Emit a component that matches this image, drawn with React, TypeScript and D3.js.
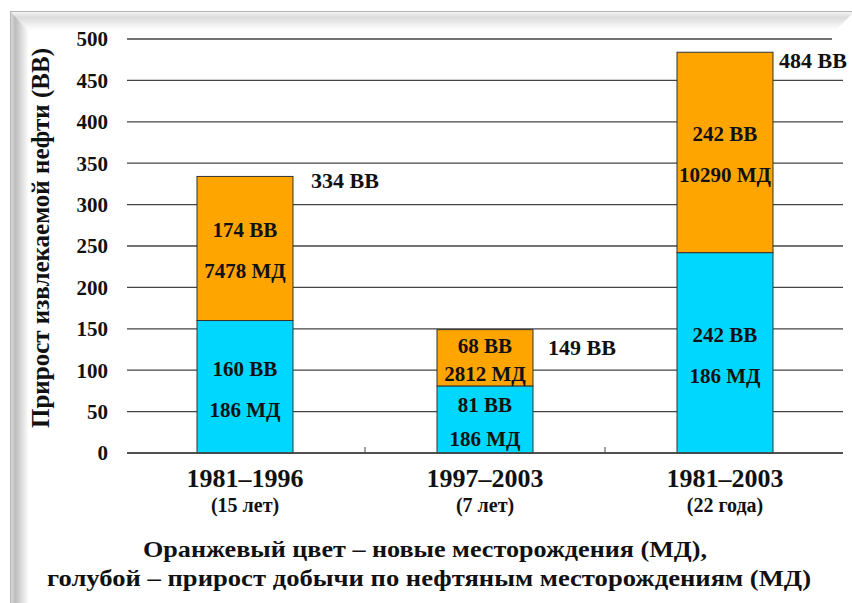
import React from "react";
import * as d3 from "d3";

// периоды и подписи
const periods = ["1981–1996", "1997–2003", "1981–2003"];
const durations = ["(15 лет)", "(7 лет)", "(22 года)"];
// прирост добычи по старым месторождениям (голубой), ВВ
const growthBB = [160, 81, 242];
// новые месторождения (оранжевый), ВВ
const newFieldsBB = [174, 68, 242];
const totalBB = [334, 149, 484];
// число месторождений
const growthFields = [186, 186, 186];
const newFieldsCount = [7478, 2812, 10290];
const yTicks = [0, 50, 100, 150, 200, 250, 300, 350, 400, 450, 500];

// ручные сдвиги подписей итогов (как на слайде)
const totalNudge = [
  { dx: 18, dy: 4 },
  { dx: 15, dy: 18 },
  { dx: 6, dy: 8 },
];

const W = 852, H = 603;
const FONT = "Liberation Serif, Tinos, DejaVu Serif, serif";
const ORANGE = "#FFA500";
const CYAN = "#00D7FF";

const App = () => {
  const x = d3.scaleBand().domain(periods).range([125, 845]).paddingInner(0.6).paddingOuter(0.3);
  const y = d3.scaleLinear().domain([0, 500]).range([453, 39]);
  const gridX0 = 127, gridX1 = 843;
  const bw = x.bandwidth();

  const segLabels = (top, bottom, cx, l1, l2, key) => {
    const y0 = y(bottom), y1 = y(top);
    const mid = (y0 + y1) / 2 + 2;
    const gap = Math.min(41, (y0 - y1) / 2);
    return (
      <g key={key} fontFamily={FONT} fontWeight="bold" fontSize={21} textAnchor="middle" fill="#111">
        <text x={cx} y={mid - gap / 2} dy="0.35em">{l1}</text>
        <text x={cx} y={mid + gap / 2} dy="0.35em">{l2}</text>
      </g>
    );
  };

  return (
    <svg width={W} height={H} style={{ position: "absolute", left: 0, top: 0, background: "#fff", fontFamily: FONT }}>
      <defs>
        <linearGradient id="bevTop" x1="0" y1="0" x2="0" y2="1">
          <stop offset="0" stopColor="#f4f4f4" />
          <stop offset="0.3" stopColor="#dcdcdc" />
          <stop offset="1" stopColor="#ffffff" />
        </linearGradient>
        <linearGradient id="bevLeft" x1="0" y1="0" x2="1" y2="0">
          <stop offset="0" stopColor="#d8d8d8" />
          <stop offset="0.25" stopColor="#bdbdbd" />
          <stop offset="1" stopColor="#fbfbfb" />
        </linearGradient>
      </defs>

      {/* рамка слайда */}
      <polygon points={`11,12 ${W},12 ${W},14 836,30 28,30`} fill="url(#bevTop)" />
      <polygon points={`11,12 28,30 28,${H} 11,${H}`} fill="url(#bevLeft)" />
      <line x1={10} x2={W} y1={11.5} y2={11.5} stroke="#b5b5b5" />
      <line x1={10.5} x2={10.5} y1={11} y2={H} stroke="#b5b5b5" />

      {/* сетка */}
      {yTicks.map(t => (
        <g key={t}>
          <line x1={gridX0} x2={t === 500 ? 832 : gridX1} y1={y(t)} y2={y(t)} stroke="#444" strokeWidth={1.3} />
          <text x={108} y={y(t)} dy="0.35em" textAnchor="end" fontFamily={FONT} fontWeight="bold" fontSize={21} fill="#111">
            {t}
          </text>
        </g>
      ))}
      {[1, 2].map(i => {
        const bx = x(periods[i]) - (x.step() - bw) / 2;
        return <line key={i} x1={bx} x2={bx} y1={y(0)} y2={y(0) - 6} stroke="#444" strokeWidth={1} />;
      })}

      {/* столбцы */}
      {periods.map((p, i) => {
        const bx = x(p);
        const cx = bx + bw / 2;
        const top = growthBB[i] + newFieldsBB[i];
        return (
          <g key={p}>
            <rect x={bx} y={y(growthBB[i])} width={bw} height={y(0) - y(growthBB[i])} fill={CYAN} stroke="#333" strokeWidth={1} />
            <rect x={bx} y={y(top)} width={bw} height={y(growthBB[i]) - y(top)} fill={ORANGE} stroke="#333" strokeWidth={1} />
            {segLabels(top, growthBB[i], cx, `${newFieldsBB[i]} ВВ`, `${newFieldsCount[i]} МД`, "o" + i)}
            {segLabels(growthBB[i], 0, cx, `${growthBB[i]} ВВ`, `${growthFields[i]} МД`, "b" + i)}
            <text x={bx + bw + totalNudge[i].dx} y={y(totalBB[i]) + totalNudge[i].dy} dy="0.35em"
              fontFamily={FONT} fontWeight="bold" fontSize={22} fill="#111">
              {totalBB[i]} ВВ
            </text>
            <text x={cx} y={478} dy="0.35em" textAnchor="middle" fontFamily={FONT} fontWeight="bold" fontSize={26} fill="#111">
              {p}
            </text>
            <text x={cx} y={505} dy="0.35em" textAnchor="middle" fontFamily={FONT} fontWeight="bold" fontSize={20} fill="#111">
              {durations[i]}
            </text>
          </g>
        );
      })}
      <line x1={gridX0} x2={gridX1} y1={y(0)} y2={y(0)} stroke="#444" strokeWidth={1.3} />

      {/* подпись оси Y */}
      <text transform="translate(40,238) rotate(-90)" dy="0.35em" textAnchor="middle" fontFamily={FONT} fontWeight="bold" fontSize={25} fill="#111">
        Прирост извлекаемой нефти (ВВ)
      </text>

      {/* пояснение */}
      <g fontFamily={FONT} fontWeight="bold" fontSize={24} fill="#111" textAnchor="middle">
        <text x={425} y={549} dy="0.35em" textLength={564} lengthAdjust="spacingAndGlyphs">
          Оранжевый цвет – новые месторождения (МД),
        </text>
        <text x={429} y={578} dy="0.35em" textLength={764} lengthAdjust="spacingAndGlyphs">
          голубой – прирост добычи по нефтяным месторождениям (МД)
        </text>
      </g>
    </svg>
  );
};

export default App;
